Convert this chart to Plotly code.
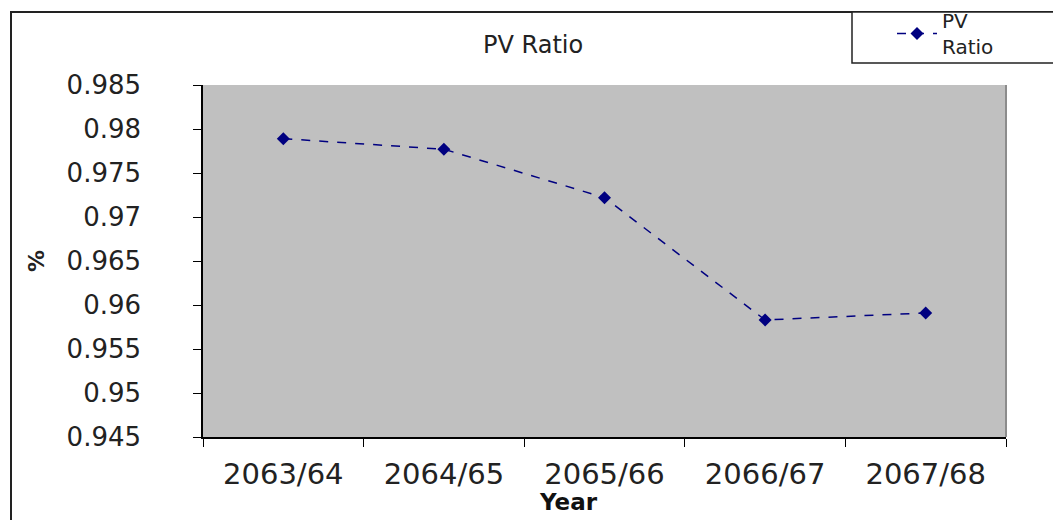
import plotly.graph_objects as go

# PV ratio by fiscal year
years = ["2063/64", "2064/65", "2065/66", "2066/67", "2067/68"]
pv_ratio = [0.9789, 0.9777, 0.9722, 0.9583, 0.9591]
y_ticks = [0.945, 0.95, 0.955, 0.96, 0.965, 0.97, 0.975, 0.98, 0.985]
y_tick_text = ["0.945", "0.95", "0.955", "0.96", "0.965", "0.97", "0.975", "0.98", "0.985"]

W, H = 1053, 520
L, R, T, B = 203, 47, 85, 83
PW, PH = W - L - R, H - T - B


def px_x(p):
    return (p - L) / PW


def px_y(p):
    return (H - B - p) / PH


NAVY = "#000080"
FONT = "DejaVu Sans"

fig = go.Figure()
fig.add_trace(go.Scatter(
    x=years, y=pv_ratio, mode="lines+markers", name="PV<br>Ratio",
    line=dict(color=NAVY, width=1.5, dash="dash"),
    marker=dict(symbol="diamond", size=10, color=NAVY),
))

fig.update_layout(
    width=W, height=H,
    margin=dict(l=L, r=R, t=T, b=B, autoexpand=False),
    paper_bgcolor="white",
    plot_bgcolor="#C0C0C0",
    font=dict(family=FONT, color="black"),
    showlegend=True,
    legend=dict(
        x=px_x(892), y=px_y(1), xanchor="left", yanchor="top",
        bgcolor="rgba(0,0,0,0)", borderwidth=0,
        font=dict(size=20, family=FONT, color="#222"),
        itemwidth=40,
    ),
    xaxis=dict(
        type="category", range=[-0.5, 4.5],
        showline=True, linecolor="black", linewidth=1.5,
        ticks="outside", tickson="boundaries", ticklen=8, tickcolor="black",
        tickfont=dict(size=29, family=FONT, color="#222"),
        ticklabelstandoff=10,
        showgrid=False, zeroline=False,
    ),
    yaxis=dict(
        range=[0.945, 0.985], tickvals=y_ticks, ticktext=y_tick_text,
        showline=True, linecolor="black", linewidth=1.5,
        ticks="outside", ticklen=8, tickcolor="black",
        tickfont=dict(size=26, family=FONT, color="#222"),
        ticklabelstandoff=47,
        showgrid=False, zeroline=False,
    ),
    shapes=[
        # outer chart frame
        dict(type="rect", xref="paper", yref="paper",
             x0=px_x(11), x1=px_x(1070), y0=px_y(540), y1=px_y(12),
             line=dict(color="#222", width=2), layer="below"),
        # legend frame
        dict(type="rect", xref="paper", yref="paper",
             x0=px_x(852), x1=px_x(1070), y0=px_y(63), y1=px_y(12),
             line=dict(color="#222", width=1.5), fillcolor="white", layer="below"),
        # right edge of the plot area
        dict(type="line", xref="paper", yref="paper",
             x0=1, x1=1, y0=0, y1=1, line=dict(color="#8c8c8c", width=2)),
    ],
    annotations=[
        dict(text="PV Ratio", xref="paper", yref="paper",
             x=px_x(533), y=px_y(45), xanchor="center", yanchor="middle",
             showarrow=False,
             font=dict(size=24, family=FONT, color="#222")),
        dict(text="<b>Year</b>", xref="paper", yref="paper",
             x=px_x(568), y=px_y(502), xanchor="center", yanchor="middle",
             showarrow=False,
             font=dict(size=23, family=FONT, color="#111")),
        dict(text="<b>%</b>", xref="paper", yref="paper",
             x=px_x(36), y=px_y(261), xanchor="center", yanchor="middle",
             showarrow=False, textangle=-90,
             font=dict(size=22, family=FONT, color="#222")),
    ],
)

fig.write_html("out.html")
